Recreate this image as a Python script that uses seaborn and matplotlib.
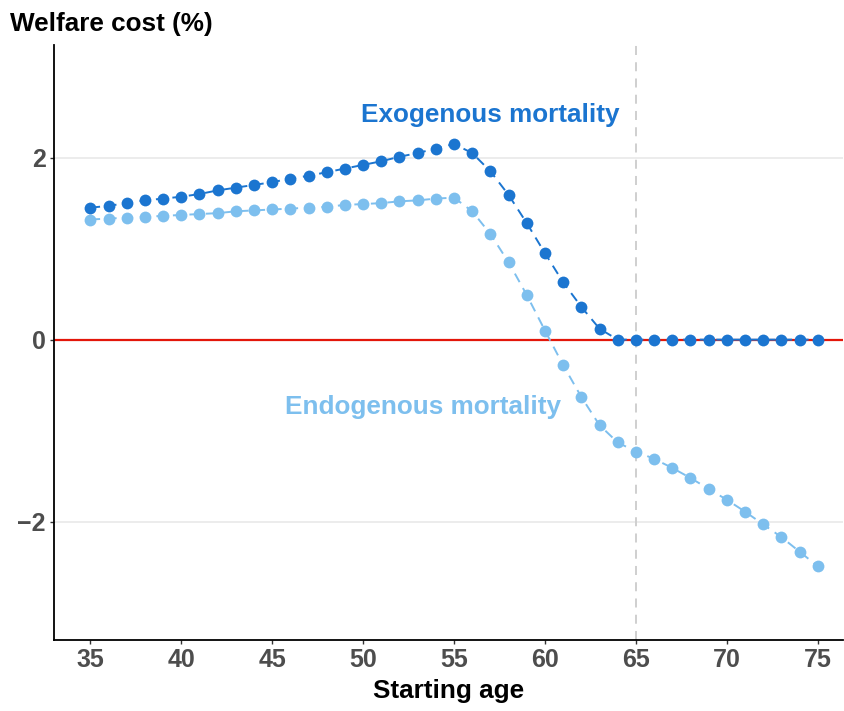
import numpy as np
import pandas as pd
import seaborn as sns
import matplotlib
matplotlib.use("Agg")
import matplotlib.pyplot as plt

ages = list(range(35, 76))
exogenous = [1.45, 1.47, 1.50, 1.53, 1.55, 1.57, 1.60, 1.64, 1.67, 1.70,
             1.73, 1.77, 1.80, 1.84, 1.88, 1.92, 1.96, 2.01, 2.05, 2.10,
             2.15, 2.05, 1.85, 1.59, 1.28, 0.95, 0.63, 0.36, 0.12, 0.0,
             0.0, 0.0, 0.0, 0.0, 0.0, 0.0, 0.0, 0.0, 0.0, 0.0, 0.0]
endogenous = [1.32, 1.33, 1.34, 1.35, 1.36, 1.37, 1.38, 1.39, 1.41, 1.42,
              1.43, 1.44, 1.45, 1.46, 1.48, 1.49, 1.50, 1.52, 1.53, 1.55,
              1.56, 1.41, 1.16, 0.85, 0.49, 0.10, -0.28, -0.63, -0.94, -1.13,
              -1.23, -1.31, -1.41, -1.52, -1.64, -1.76, -1.89, -2.03, -2.17, -2.33, -2.49]

dark = "#1B75D0"
light = "#7DBFEE"

df = pd.DataFrame({
    "age": ages * 2,
    "cost": endogenous + exogenous,
    "model": ["Endogenous mortality"] * len(ages) + ["Exogenous mortality"] * len(ages),
})

sns.set_theme(style="white")
plt.rcParams["font.family"] = ["Liberation Sans", "DejaVu Sans"]

fig = plt.figure(figsize=(8.44, 7.11), dpi=100)
ax = fig.add_axes([0.064, 0.1, 0.935, 0.837])

for y in [-2, 2]:
    ax.axhline(y, color="#EBEBEB", lw=1.3, zorder=0)
ax.axvline(65, color="#CCCCCC", lw=1.3, dashes=(5, 4), zorder=1)
ax.axhline(0, color="#E3170A", lw=1.6, zorder=1)

sns.lineplot(data=df, x="age", y="cost", hue="model",
             palette={"Endogenous mortality": light, "Exogenous mortality": dark},
             marker="o", markersize=8.5, markeredgewidth=0, lw=1.4,
             dashes=False, linestyle=(0, (5, 3.5)), legend=False, ax=ax, zorder=3)

ax.text(57.0, 2.47, "Exogenous mortality", color=dark, fontsize=18.8,
        fontweight="bold", ha="center", va="center")
ax.text(53.3, -0.74, "Endogenous mortality", color=light, fontsize=18.8,
        fontweight="bold", ha="center", va="center")

ax.set_xlim(33.0, 76.4)
ax.set_ylim(-3.3, 3.24)
ax.set_xticks(range(35, 76, 5))
ax.set_yticks([-2, 0, 2])
ax.set_yticklabels(["\u22122", "0", "2"])
ax.tick_params(axis="both", labelsize=18, labelcolor="#4D4D4D", length=3,
               width=1, color="#333333", bottom=True, left=True, pad=3)
for lab in ax.get_xticklabels() + ax.get_yticklabels():
    lab.set_fontweight("bold")

ax.set_xlabel("Starting age", fontsize=18.8, fontweight="bold", color="black", labelpad=5)
ax.set_ylabel("")
fig.text(0.012, 0.966, "Welfare cost (%)", fontsize=18.8, fontweight="bold",
         color="black", ha="left", va="center")

sns.despine(ax=ax)
for s in ["left", "bottom"]:
    ax.spines[s].set_color("black")
    ax.spines[s].set_linewidth(1.3)

fig.savefig("out.png", dpi=100)
